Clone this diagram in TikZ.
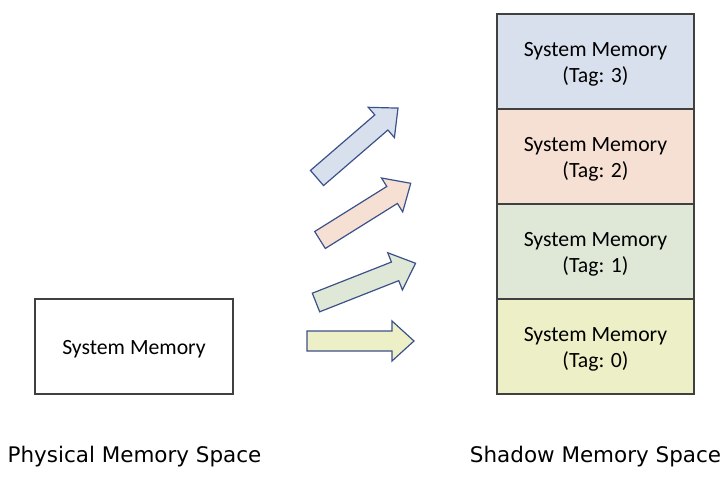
\documentclass[tikz,border=0pt]{standalone}
\usepackage{fontspec}
\setmainfont{Carlito}
\newfontfamily\labelfont{DejaVu Sans}
\definecolor{cblue}{HTML}{D8E0EE}
\definecolor{cpeach}{HTML}{F6E0D3}
\definecolor{cgreen}{HTML}{DFE8D7}
\definecolor{cyellow}{HTML}{EDF0C6}
\definecolor{arrowline}{HTML}{3B5189}
\definecolor{boxline}{HTML}{404040}
\begin{document}
\begin{tikzpicture}[x=0.75pt,y=-0.75pt,
  membox/.style={draw=boxline,line width=0.9pt,minimum width=197*0.75pt,minimum height=95*0.75pt,inner sep=0pt},
  boxtext/.style={inner sep=0pt,align=center,font=\fontsize{16.3}{20}\selectfont},
  spacelabel/.style={font=\labelfont\fontsize{16.1}{19}\selectfont,inner sep=0pt},
  blockarrow/.style={draw=arrowline,line width=0.9pt,line join=miter}]
\useasboundingbox (0,0) rectangle (728,477);
% physical
\node[membox,minimum width=198*0.75pt] (phys) at (134,346.5) {};
\node[boxtext] (physt) at ([yshift=-2.2pt]phys.center) {System Memory};
\node[spacelabel] (plabel) at (134.5,457) {Physical Memory Space};
% shadow stack
\node[membox,fill=cblue] (t3) at (595.5,61.5) {};
\node[membox,fill=cpeach] (t2) at (595.5,156.5) {};
\node[membox,fill=cgreen] (t1) at (595.5,251.5) {};
\node[membox,fill=cyellow] (t0) at (595.5,346.5) {};
\foreach \n/\t in {t3/3,t2/2,t1/1,t0/0}{
  \node[boxtext] (\n text) at ([yshift=-2.2pt]\n.center) {System Memory\\(Tag: \t)};
}
\node[spacelabel] (slabel) at (595.5,457) {Shadow Memory Space};
% block arrows
\foreach \px/\py/\ang/\col in {307/341/0/cyellow, 316/302.5/21.5/cgreen, 320/240/32/cpeach, 317/178/40.8/cblue}{
  \begin{scope}[shift={(\px,\py)},rotate=\ang]
    \draw[blockarrow,fill=\col] (0,-10) -- (85,-10) -- (85,-20) -- (107,0) -- (85,20) -- (85,10) -- (0,10) -- cycle;
  \end{scope}
}
\end{tikzpicture}
\end{document}
